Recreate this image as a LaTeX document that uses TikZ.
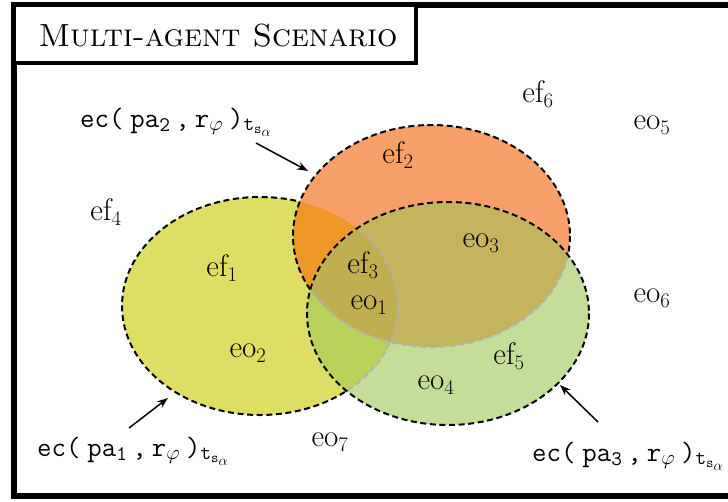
\documentclass[tikz,border=0pt]{standalone}
\usetikzlibrary{arrows.meta}
\definecolor{cY}{RGB}{222,222,100}
\definecolor{cO}{RGB}{248,160,106}
\definecolor{cYO}{RGB}{239,152,42}
\definecolor{cG}{RGB}{196,221,152}
\definecolor{cGO}{RGB}{196,180,94}
\definecolor{cGY}{RGB}{186,210,90}
\definecolor{cGYO}{RGB}{190,176,80}
\tikzset{
  setborder/.style={dash pattern=on 6pt off 3.6pt, line width=2pt},
  faintborder/.style={setborder, black!30},
  elabel/.style={font=\fontsize{31}{36}\selectfont, inner sep=0pt},
  eclabel/.style={font=\fontsize{28}{32}\selectfont\ttfamily, inner sep=0pt, anchor=base west},
  pointer/.style={-{Stealth[length=11pt,width=8pt]}, line width=1.5pt},
  frame/.style={line width=6pt},
}
\newcommand\eclab[1]{ec(\hspace{7pt}pa$_{\mathtt{#1}}$\hspace{5pt},\hspace{5pt}r$_\varphi$\hspace{6pt})$_{\mathtt{t}_{\mathtt{s}_\alpha}}$}
\def\ellY{(260,306) ellipse [x radius=138, y radius=109]}
\def\ellO{(431.5,236) ellipse [x radius=138.5, y radius=111]}
\def\ellG{(448,313.5) ellipse [x radius=141, y radius=111.5]}
\begin{document}
\begin{tikzpicture}[x=1pt,y=-1pt]
\useasboundingbox (0,0) rectangle (728,501);
% frame
\draw[frame] (740,5) -- (14,5) -- (14,496) -- (740,496);
% yellow set
\fill[cY] \ellY;
\draw[setborder] \ellY;
% orange set
\fill[cO] \ellO;
\begin{scope}
  \clip \ellY;
  \fill[cYO] \ellO;
\end{scope}
\draw[setborder] \ellO;
% green set
\fill[cG] \ellG;
\begin{scope}
  \clip \ellG;
  \fill[cGY] \ellY;
  \fill[cGO] \ellO;
  \begin{scope}
    \clip \ellY;
    \fill[cGYO] \ellO;
  \end{scope}
  \draw[faintborder] \ellY;
  \draw[faintborder] \ellO;
\end{scope}
\draw[setborder] \ellG;
% title
\draw[line width=3.5pt, fill=white] (14,5) rectangle (416,63);
\node[font=\fontsize{32}{38}\selectfont, inner sep=0pt] (title) at (218,36) {\textsc{Multi-agent Scenario}};
% labels
\node[elabel] (ef6) at (538,94) {ef$_6$};
\node[elabel] (eo5) at (652,125) {eo$_5$};
\node[elabel] (ef2) at (398,155) {ef$_2$};
\node[elabel] (ef4) at (106,212) {ef$_4$};
\node[elabel] (ef1) at (222,268) {ef$_1$};
\node[elabel] (ef3) at (363,265) {ef$_3$};
\node[elabel] (eo3) at (481,243) {eo$_3$};
\node[elabel] (eo1) at (369,305) {eo$_1$};
\node[elabel] (eo6) at (652,298) {eo$_6$};
\node[elabel] (eo2) at (248,353) {eo$_2$};
\node[elabel] (ef5) at (509,356) {ef$_5$};
\node[elabel] (eo4) at (436,385) {eo$_4$};
\node[elabel] (eo7) at (330,442) {eo$_7$};
% ec labels
\node[eclabel] (ec2) at (80,127) {\eclab{2}};
\node[eclabel] (ec1) at (37,456) {\eclab{1}};
\node[eclabel] (ec3) at (532,461) {\eclab{3}};
% pointers
\coordinate (t2) at (256,143);
\coordinate (h2) at (308,171);
\coordinate (t1) at (129,428);
\coordinate (h1) at (168,398);
\coordinate (t3) at (598,422);
\coordinate (h3) at (560,385);
\draw[pointer] (t2) -- (h2);
\draw[pointer] (t1) -- (h1);
\draw[pointer] (t3) -- (h3);
\end{tikzpicture}
\end{document}
